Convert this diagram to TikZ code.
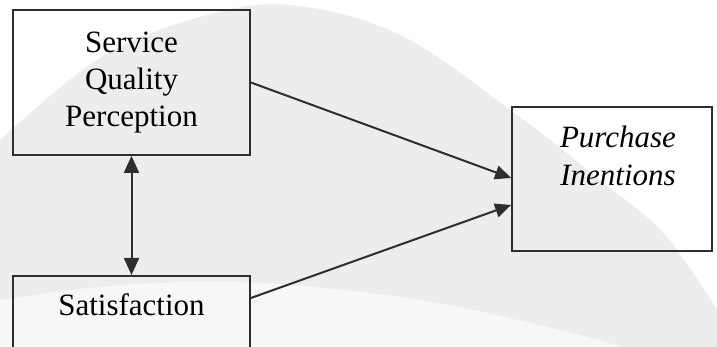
\documentclass[tikz,border=0pt]{standalone}
\usepackage{fontspec}
\setmainfont{Liberation Serif}
\usetikzlibrary{arrows.meta,calc}
\begin{document}
\begin{tikzpicture}[x=1pt,y=1pt,
  box/.style={draw=black!82, line width=1.8pt, rectangle, align=center, font=\fontsize{31}{37}\selectfont},
  lbl/.style={align=center, inner sep=0pt, font=\itshape\fontsize{31}{38}\selectfont},
  link/.style={draw=black!82, line width=2pt, -{Triangle[length=16pt,width=14pt]}},
  dlink/.style={draw=black!82, line width=2pt, {Triangle[length=17pt,width=15pt]}-{Triangle[length=17pt,width=15pt]}},
]
\useasboundingbox (0,0) rectangle (717,-347);
\clip (0,0) rectangle (717,-347);
\fill[white] (0,0) rectangle (717,-347);
\fill[black!7] plot[smooth, tension=0.6] coordinates {(0,-140) (100,-58) (200,-17) (290,-5) (400,-35) (517,-115) (600,-180) (665,-235) (717,-310)} -- (717,-347) -- (0,-347) -- cycle;
\fill[black!3] plot[smooth, tension=0.6] coordinates {(0,-300) (120,-285) (260,-283) (420,-300) (560,-330) (640,-352)} -- (0,-352) -- cycle;
\node[box, minimum width=237pt, minimum height=145pt] (sq) at (131.5,-82.5) {Service\\Quality\\Perception};
\node[box, anchor=north, minimum width=237pt, inner ysep=0pt, text height=40pt, text depth=60pt] (sat) at (131.5,-275) {Satisfaction};
\node[box, minimum width=200pt, minimum height=144pt] (pi) at (612,-179) {};
\node[lbl] (pitext) at (618,-156) {Purchase\\Inentions};
\draw[link] (sq.east) -- ([yshift=1pt]pi.west);
\draw[link] ([yshift=-23pt]sat.north east) -- ([yshift=-26pt]pi.west);
\draw[dlink] (sq.south) -- (sat.north);
\end{tikzpicture}
\end{document}
